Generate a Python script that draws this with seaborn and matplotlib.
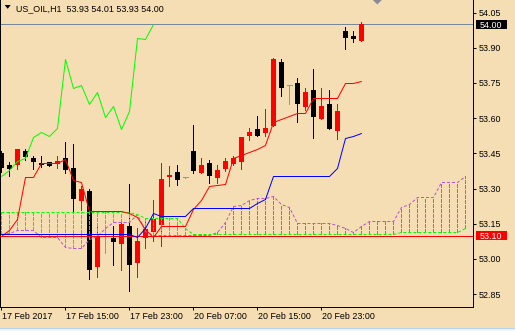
import numpy as np
import pandas as pd
import matplotlib
matplotlib.use("Agg")
import matplotlib.pyplot as plt
import matplotlib.transforms as mtransforms
from matplotlib.patches import Rectangle, Polygon
import seaborn as sns

# ---------------- data ----------------
title_text = "US_OIL,H1  53.93 54.01 53.93 54.00"

opens = [53.45, 53.40, 53.40, 53.46, 53.43, 53.41, 53.413, 53.405, 53.43, 53.388,
         53.245, 53.29, 52.967, 53.105, 53.09, 53.065, 53.14, 52.985, 53.09, 53.116,
         53.145, 53.348, 53.37, 53.348, 53.46, 53.368, 53.41, 53.346, 53.383, 53.405,
         53.415, 53.524, 53.553, 53.538, 53.567, 53.84, 53.74, 53.751, 53.649, 53.72,
         53.596, 53.66, 53.547, 53.97, 53.95, 53.93]
highs = [53.46, 53.415, 53.47, 53.47, 53.44, 53.44, 53.415, 53.44, 53.50, 53.49,
         53.31, 53.30, 53.14, 53.138, 53.14, 53.16, 53.32, 53.13, 53.17, 53.25,
         53.41, 53.395, 53.40, 53.35, 53.57, 53.43, 53.42, 53.40, 53.432, 53.44,
         53.52, 53.56, 53.61, 53.64, 53.855, 53.852, 53.74, 53.772, 53.73, 53.81,
         53.73, 53.72, 53.66, 53.99, 53.97, 54.01]
lows = [53.37, 53.355, 53.385, 53.42, 53.382, 53.39, 53.396, 53.386, 53.365, 53.20,
        53.21, 52.915, 52.925, 53.025, 52.975, 52.955, 52.865, 52.925, 53.045, 53.075,
        53.055, 53.31, 53.315, 53.346, 53.368, 53.366, 53.325, 53.325, 53.375, 53.40,
        53.382, 53.507, 53.524, 53.524, 53.565, 53.696, 53.66, 53.585, 53.635, 53.517,
        53.595, 53.555, 53.51, 53.896, 53.926, 53.93]
closes = [53.386, 53.384, 53.469, 53.436, 53.414, 53.40, 53.398, 53.418, 53.38, 53.257,
          53.297, 52.953, 53.097, 53.105, 53.074, 53.15, 52.976, 53.077, 53.127, 53.169,
          53.341, 53.36, 53.337, 53.348, 53.376, 53.40, 53.354, 53.379, 53.418, 53.432,
          53.52, 53.541, 53.524, 53.56, 53.853, 53.727, 53.74, 53.66, 53.712, 53.606,
          53.652, 53.555, 53.631, 53.94, 53.937, 54.00]

tenkan = [53.10, 53.124, 53.17, 53.348, 53.348, 53.408, 53.41, 53.41, 53.425, 53.337,
          53.33, 53.206, 53.206, 53.206, 53.206, 53.206, 53.195, 53.18, 53.128, 53.095,
          53.141, 53.141, 53.141, 53.141, 53.215, 53.25, 53.31, 53.315, 53.32, 53.43,
          53.443, 53.454, 53.469, 53.487, 53.585, 53.595, 53.61, 53.621, 53.621, 53.685,
          53.685, 53.685, 53.685, 53.749, 53.751, 53.757]
kijun = [53.107] * 17 + [53.095, 53.131, 53.197] + [53.183] * 4 + [53.217] * 8 + \
        [53.238, 53.256] + [53.355] * 8 + [53.386, 53.517, 53.525, 53.536]

span_a = [53.199] * 17 + [53.19] + [53.173] * 5 + [53.13] + [53.107] * 26 + \
         [53.115] * 8 + [53.13]
span_b = [53.105, 53.11, 53.122, 53.122, 53.122, 53.095, 53.095, 53.095, 53.05, 53.046,
          53.046, 53.085, 53.10, 53.13, 53.159, 53.159, 53.159, 53.19, 53.12] + \
         [53.103] * 8 + \
         [53.115, 53.159, 53.227, 53.229, 53.251, 53.259, 53.259, 53.268, 53.235, 53.22] + \
         [53.155] * 5 + [53.145, 53.133, 53.114, 53.142] + [53.162] * 4 + \
         [53.22, 53.234, 53.263, 53.265, 53.265, 53.327, 53.33, 53.33, 53.354]
chikou_shift = 26

price_ticks = [54.05, 53.90, 53.75, 53.60, 53.45, 53.30, 53.15, 53.00, 52.85]
price_tick_labels = ["54.05", "53.90", "53.75", "53.60", "53.45", "53.30", "53.15", "53.00", "52.85"]
time_labels = ["17 Feb 2017", "17 Feb 15:00", "17 Feb 23:00", "20 Feb 07:00",
               "20 Feb 15:00", "20 Feb 23:00"]
time_label_bars = [0, 8, 16, 24, 32, 40]
bid_price = 54.00
bid_label = "54.00"
level_price = 53.10
level_label = "53.10"
shift_bar = 47

# ---------------- style ----------------
sns.set_theme(style="white")
plt.rcParams["font.family"] = ["Liberation Sans", "DejaVu Sans"]

W, H = 515, 331
BG = "#F5DEB3"
GREEN = "#00FF00"
PURPLE = "#BA55D3"
LW = 0.72
FS = 6.4
DASH = (0, (3, 2))

fig = plt.figure(figsize=(W / 100, H / 100), dpi=100)
fig.patch.set_facecolor(BG)
AX_W_PX, AX_H_PX = 473.0, 306.5
ax = fig.add_axes([0.0, (H - AX_H_PX) / H, AX_W_PX / W, AX_H_PX / H])
ax.set_facecolor(BG)

PX_PER_BAR = 8.0
PX_PER_PRICE = 234.7
x_left = -1.3 / PX_PER_BAR
x_right = x_left + AX_W_PX / PX_PER_BAR
y_top = bid_price + 24.3 / PX_PER_PRICE
y_bot = y_top - AX_H_PX / PX_PER_PRICE

# ---------------- candles ----------------
o = np.array(opens); c = np.array(closes); h = np.array(highs); l = np.array(lows)
bars = np.arange(len(o))
up = c > o
dn = c < o
dj = ~(up | dn)
colors = np.where(up, "red", np.where(dn, "black", GREEN))
body_w = 5.0 / PX_PER_BAR
ax.vlines(bars, l, h, colors=colors, lw=LW, zorder=2, antialiased=False)
nd = ~dj
ax.bar(bars[nd], (c - o)[nd], bottom=o[nd], width=body_w, color=colors[nd],
       linewidth=0, zorder=2.1, antialiased=False)
ax.hlines(o[dj], bars[dj] - body_w / 2, bars[dj] + body_w / 2, colors=GREEN,
          lw=LW, zorder=2.1, antialiased=False)

# ---------------- horizontal price lines ----------------
ax.axhline(bid_price, color="#778899", lw=LW, zorder=1.5, antialiased=False)
ax.axhline(level_price, color="red", lw=LW, zorder=3.5, antialiased=False)

# ---------------- ichimoku cloud ----------------
a = np.array(span_a); b = np.array(span_b)
sidx = np.arange(len(a))
a_hi = a > b
b_hi = b > a
ax.vlines(sidx[a_hi], b[a_hi], a[a_hi], colors=GREEN, lw=LW, linestyles=[DASH],
          zorder=3, antialiased=False)
ax.vlines(sidx[b_hi], a[b_hi], b[b_hi], colors=PURPLE, lw=LW, linestyles=[DASH],
          zorder=3, antialiased=False)


def seaborn_line(df, y, color, z, dashed=False):
    sns.lineplot(data=df, x="bar", y=y, ax=ax, color=color, linewidth=LW,
                 linestyle=DASH if dashed else "-", errorbar=None,
                 antialiased=True, zorder=z)
    ln = ax.get_lines()[-1]
    ln.set_linewidth(LW)
    ln.set_linestyle(DASH if dashed else "-")
    ln.set_antialiased(True)
    ln.set_snap(True)
    ln.set_zorder(z)


df_span = pd.DataFrame({"bar": sidx, "span_a": a, "span_b": b})
seaborn_line(df_span, "span_b", PURPLE, 3.2, dashed=True)
seaborn_line(df_span, "span_a", GREEN, 3.3, dashed=True)

# ---------------- ichimoku lines ----------------
df_lines = pd.DataFrame({"bar": bars, "tenkan": tenkan, "kijun": kijun})
df_chikou = pd.DataFrame({"bar": bars[:len(bars) - chikou_shift],
                          "chikou": c[chikou_shift:]})
seaborn_line(df_chikou, "chikou", GREEN, 4)
seaborn_line(df_lines, "tenkan", "red", 5)
seaborn_line(df_lines, "kijun", "blue", 5.1)

ax.set_xlabel("")
ax.set_ylabel("")
ax.set_xlim(x_left, x_right)
ax.set_ylim(y_bot, y_top)

# ---------------- axes / ticks ----------------
for s in ["left", "right", "bottom"]:
    ax.spines[s].set_visible(True)
    ax.spines[s].set_color("black")
    ax.spines[s].set_linewidth(LW)
ax.spines["top"].set_visible(False)

ax.yaxis.tick_right()
ax.set_yticks(price_ticks)
ax.set_yticklabels(price_tick_labels)
ax.tick_params(axis="y", which="major", direction="out", length=2.2, width=LW,
               pad=2.0, labelsize=FS, colors="black", right=True, left=False)
ax.set_xticks(time_label_bars)
ax.set_xticklabels(time_labels, ha="left")
ax.tick_params(axis="x", which="major", direction="out", length=2.2, width=LW,
               pad=1.5, labelsize=FS, colors="black", bottom=True)
off = mtransforms.ScaledTranslation(1.0 / 100, 0, fig.dpi_scale_trans)
for t in ax.get_xticklabels():
    t.set_transform(t.get_transform() + off)
ax.grid(False)

# ---------------- price boxes on the right axis ----------------
tr = mtransforms.blended_transform_factory(ax.transAxes, ax.transData)


def price_box(price, text, fc):
    x0 = 1 + 2.5 / AX_W_PX
    w = 31.0 / AX_W_PX
    hh = 9.5 / PX_PER_PRICE
    ax.add_patch(Rectangle((x0, price - hh / 2), w, hh, transform=tr, facecolor=fc,
                           edgecolor="none", clip_on=False, zorder=10))
    ax.text(x0 + 4.0 / AX_W_PX, price, text, transform=tr, color="white",
            fontsize=FS, ha="left", va="center_baseline", clip_on=False, zorder=11)


price_box(bid_price, bid_label, "black")
price_box(level_price, level_label, "red")

# chart-shift marker at top
trx = mtransforms.blended_transform_factory(ax.transData, ax.transAxes)
dx = 4.5 / PX_PER_BAR
dy = 4.5 / AX_H_PX
ax.add_patch(Polygon([(shift_bar - dx, 1.0), (shift_bar + dx, 1.0), (shift_bar, 1.0 - dy)],
                     closed=True, transform=trx, facecolor="#8C8C96", edgecolor="none",
                     clip_on=False, zorder=12))

# ---------------- title ----------------
fig.add_artist(Polygon([(4.7 / W, 1 - 5.0 / H), (10.7 / W, 1 - 5.0 / H), (7.7 / W, 1 - 8.8 / H)],
                       closed=True, transform=fig.transFigure, facecolor="black",
                       edgecolor="none"))
fig.text(16.5 / W, 1 - 7.6 / H, title_text, fontsize=FS, color="black",
         ha="left", va="center_baseline")

# bottom window border
fig.add_artist(Rectangle((0, 0), 1, 2.5 / H, transform=fig.transFigure,
                         facecolor="#EEF3FA", edgecolor="none"))
fig.add_artist(Rectangle((0, 2.0 / H), 1, 1.0 / H, transform=fig.transFigure,
                         facecolor="#B9D1EA", edgecolor="none"))

fig.savefig("out.png", dpi=100, facecolor=BG)
